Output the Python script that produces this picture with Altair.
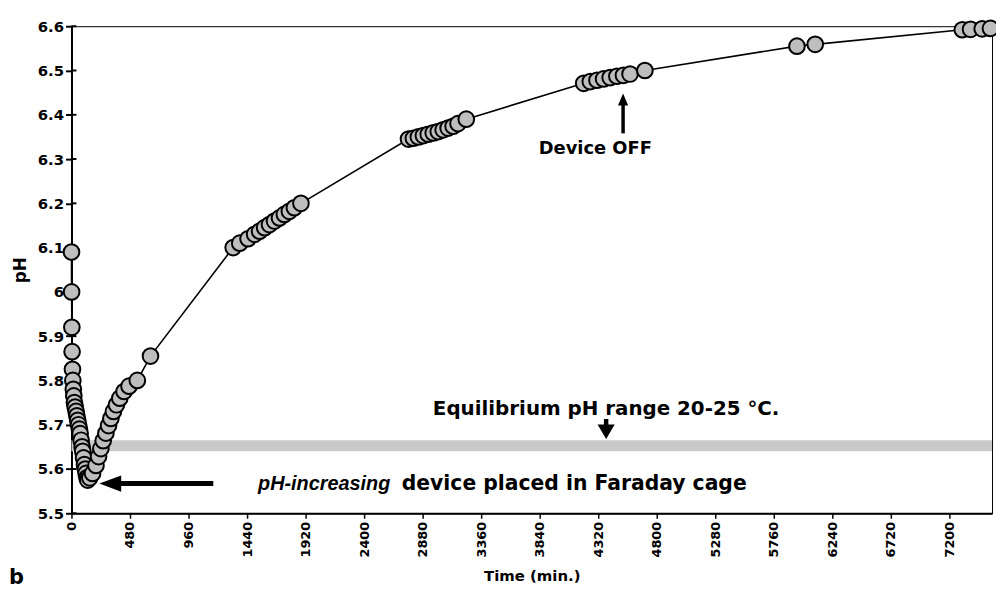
import altair as alt
import pandas as pd

# ---- data ----
time_min = [0, 1, 3, 5, 8, 11, 15, 19, 24, 30, 38, 44, 51, 58, 65, 71, 79, 87, 92, 99, 106, 113, 120, 127, 133,
            150, 173, 201, 222, 241, 260, 282, 304, 323, 344, 369, 396, 431, 472, 540, 648,
            1326, 1380, 1448, 1502, 1543, 1584, 1624, 1665, 1706, 1746, 1787, 1828, 1882,
            2764, 2804, 2845, 2886, 2926, 2967, 3008, 3048, 3089, 3130, 3170, 3238,
            4201, 4255, 4310, 4364, 4418, 4473, 4527, 4581, 4703,
            5950, 6100,
            7306, 7374, 7469, 7537]
ph = [6.09, 6.00, 5.92, 5.865, 5.825, 5.80, 5.78, 5.765, 5.75, 5.74, 5.73, 5.72, 5.71, 5.70, 5.69, 5.68, 5.665,
      5.65, 5.64, 5.625, 5.61, 5.60, 5.59, 5.58, 5.575,
      5.58, 5.59, 5.608, 5.628, 5.646, 5.664, 5.681, 5.698, 5.714, 5.73, 5.745, 5.76, 5.775, 5.787, 5.80, 5.855,
      6.10, 6.11, 6.12, 6.13, 6.137, 6.145, 6.152, 6.16, 6.167, 6.175, 6.182, 6.19, 6.20,
      6.345, 6.347, 6.350, 6.353, 6.356, 6.359, 6.362, 6.366, 6.370, 6.374, 6.380, 6.390,
      6.471, 6.475, 6.478, 6.481, 6.484, 6.487, 6.489, 6.492, 6.500,
      6.555, 6.559,
      6.592, 6.593, 6.594, 6.595]

x_tick_values = [0, 480, 960, 1440, 1920, 2400, 2880, 3360, 3840, 4320, 4800, 5280, 5760, 6240, 6720, 7200]
y_tick_values = [5.5, 5.6, 5.7, 5.8, 5.9, 6.0, 6.1, 6.2, 6.3, 6.4, 6.5, 6.6]
x_domain = [0, 7550]
y_domain = [5.5, 6.6]

band_range = [5.64, 5.665]

df = pd.DataFrame({"t": time_min, "ph": ph, "order": list(range(len(time_min)))})

FONT = "DejaVu Sans"
FONT_IT = "Liberation Sans"
xs = alt.Scale(domain=x_domain, nice=False, zero=False)
ys = alt.Scale(domain=y_domain, nice=False, zero=False)

xaxis = alt.Axis(values=x_tick_values, format="d", labelAngle=270, labelFont=FONT, labelFontWeight="bold",
                 labelFontSize=13, labelColor="black", labelPadding=3, tickSize=5, tickWidth=1.5,
                 tickColor="black", domainColor="black", domainWidth=2, grid=False,
                 title="Time (min.)", titleFont=FONT, titleFontSize=15, titleFontWeight="bold",
                 titleColor="black", titlePadding=12, labelOverlap=False)
yaxis = alt.Axis(values=y_tick_values, format="~g", labelFont=FONT, labelFontWeight="bold",
                 labelFontSize=15, labelColor="black", labelPadding=2, tickSize=6, tickWidth=2,
                 tickColor="black", domainColor="black", domainWidth=2, grid=False,
                 title="pH", titleFont=FONT, titleFontSize=17, titleFontWeight="bold",
                 titleColor="black", titlePadding=8, labelOverlap=False)


def X(field):
    return alt.X(field, scale=xs, axis=xaxis)


def Y(field):
    return alt.Y(field, scale=ys, axis=yaxis)


band = alt.Chart(pd.DataFrame({"x0": [x_domain[0]], "x1": [x_domain[1]],
                               "y0": [band_range[0]], "y1": [band_range[1]]})).mark_rect(
    color="#c9c9c9").encode(x=X("x0:Q"), x2="x1:Q", y=Y("y0:Q"), y2="y1:Q")

# inner halves of the cross-style y ticks
inner_ticks = alt.Chart(pd.DataFrame({"v": y_tick_values})).mark_rule(
    color="black", strokeWidth=2).encode(x=alt.value(0), x2=alt.value(5), y=Y("v:Q"))

line = alt.Chart(df).mark_line(color="black", strokeWidth=1.6, clip=False).encode(
    x=X("t:Q"), y=Y("ph:Q"), order="order:Q")

points = alt.Chart(df).mark_point(shape="circle", filled=True, fill="#bebebe", stroke="black",
                                  strokeWidth=2, size=250, opacity=1, clip=False).encode(
    x=X("t:Q"), y=Y("ph:Q"), order="order:Q")

# ---- annotations ----
eq_text = alt.Chart(pd.DataFrame({"t": [4385], "ph": [5.735],
                                  "label": ["Equilibrium pH range 20-25 \u00b0C."]})).mark_text(
    font=FONT, fontWeight="bold", fontSize=20, color="black", align="center", baseline="middle").encode(
    x=X("t:Q"), y=Y("ph:Q"), text="label:N")
off_text = alt.Chart(pd.DataFrame({"t": [4296], "ph": [6.322], "label": ["Device OFF"]})).mark_text(
    font=FONT, fontWeight="bold", fontSize=18, color="black", align="center", baseline="middle").encode(
    x=X("t:Q"), y=Y("ph:Q"), text="label:N")

bottom_italic = alt.Chart(pd.DataFrame({"t": [1530], "ph": [5.567], "label": ["pH-increasing"]})).mark_text(
    font=FONT_IT, fontWeight="bold", fontStyle="italic", fontSize=20, color="black", align="left",
    baseline="middle").encode(x=X("t:Q"), y=Y("ph:Q"), text="label:N")
bottom_rest = alt.Chart(pd.DataFrame({"t": [2709], "ph": [5.567],
                                      "label": ["device placed in Faraday cage"]})).mark_text(
    font=FONT, fontWeight="bold", fontSize=20.5, color="black", align="left", baseline="middle").encode(
    x=X("t:Q"), y=Y("ph:Q"), text="label:N")

# arrow shafts
shaft_h = alt.Chart(pd.DataFrame({"t": [370], "t2": [1163], "ph": [5.567]})).mark_rule(
    color="black", strokeWidth=5).encode(x=X("t:Q"), x2="t2:Q", y=Y("ph:Q"))
shaft_v = alt.Chart(pd.DataFrame({"t": [4524], "ph": [6.358], "ph2": [6.435]})).mark_rule(
    color="black", strokeWidth=3.5).encode(x=X("t:Q"), y=Y("ph:Q"), y2="ph2:Q")
shaft_v2 = alt.Chart(pd.DataFrame({"t": [4385], "ph": [5.713], "ph2": [5.685]})).mark_rule(
    color="black", strokeWidth=4.5).encode(x=X("t:Q"), y=Y("ph:Q"), y2="ph2:Q")

head_left = alt.Chart(pd.DataFrame({"t": [318], "ph": [5.567]})).mark_point(
    shape="M 1 -0.75 L -1 0 L 1 0.75 Z", size=484, filled=True, color="black", opacity=1).encode(
    x=X("t:Q"), y=Y("ph:Q"))
head_up = alt.Chart(pd.DataFrame({"t": [4524], "ph": [6.4345]})).mark_point(
    shape="M -0.85 1 L 0 -1 L 0.85 1 Z", size=144, filled=True, color="black", opacity=1).encode(
    x=X("t:Q"), y=Y("ph:Q"))
head_down = alt.Chart(pd.DataFrame({"t": [4385], "ph": [5.684]})).mark_point(
    shape="M -1 -0.85 L 0 0.85 L 1 -0.85 Z", size=300, filled=True, color="black", opacity=1).encode(
    x=X("t:Q"), y=Y("ph:Q"))

panel_b = alt.Chart(pd.DataFrame({"label": ["b"]})).mark_text(
    font=FONT, fontWeight="bold", fontSize=21, color="black", align="left", baseline="alphabetic").encode(
    x=alt.value(-63), y=alt.value(562), text="label:N")

chart = alt.layer(band, inner_ticks, line, points, shaft_h, shaft_v, shaft_v2, head_left, head_up, head_down,
                  eq_text, off_text, bottom_italic, bottom_rest, panel_b).properties(
    width=928, height=491,
    padding={"left": 64, "top": 16, "right": 4, "bottom": 76},
    autosize=alt.AutoSizeParams(type="none"),
    background="white",
).configure_view(stroke="black", strokeWidth=1)

chart.save("out.html", embed_options={"renderer": "svg", "actions": False})
